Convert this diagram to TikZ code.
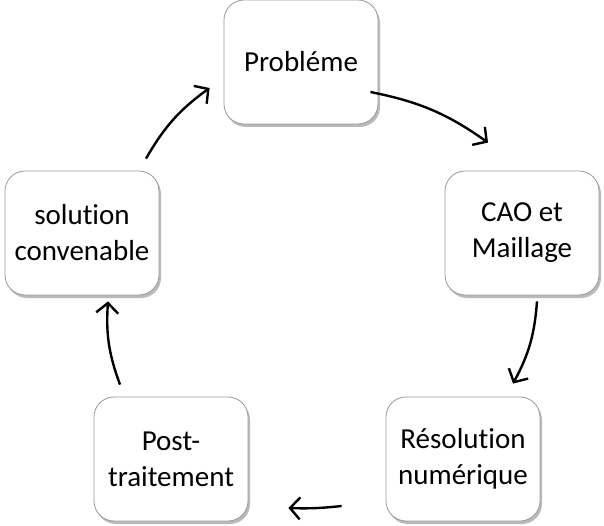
\documentclass[tikz,border=0pt]{standalone}
\usepackage{fontspec}
\setmainfont{Carlito}[Ligatures=NoCommon]
\usetikzlibrary{arrows.meta,shadows}

\begin{document}
\begin{tikzpicture}[x=1pt,y=-1pt,
  etape/.style={draw=gray!80,line width=0.8pt,fill=white,rounded corners=20pt,
    minimum width=154pt,minimum height=124pt,align=center,
    font=\fontsize{29}{36}\selectfont,
    drop shadow={shadow xshift=2pt,shadow yshift=-3pt,fill=black!45,opacity=0.6}},
  fleche/.style={line width=2.4pt,-{Straight Barb[length=10pt,width=22pt]}}]
\useasboundingbox (0,0) rectangle (604,526);
\node[etape] (probleme_node) at (301,62) {Probléme};
\node[etape] (cao_node) at (522,233) {CAO et\\Maillage};
\node[etape] (resolution_node) at (463,459) {Résolution\\numérique};
\node[etape] (post_node) at (171,459) {Post-\\traitement};
\node[etape] (solution_node) at (82,233) {solution\\convenable};

\draw[fleche] ([shift={(64pt,12pt)}]solution_node.north) to[bend left=12] ([shift={(-14pt,-26pt)}]probleme_node.west);
\draw[fleche] ([shift={(-8pt,-30pt)}]probleme_node.east) to[bend left=12] ([shift={(-34pt,28pt)}]cao_node.north);
\draw[fleche] ([shift={(15pt,-6pt)}]cao_node.south) to[bend left=12] ([shift={(50pt,13pt)}]resolution_node.north);
\draw[fleche] ([shift={(-44pt,-47pt)}]resolution_node.west) to[bend left=4] ([shift={(40pt,-49pt)}]post_node.east);
\draw[fleche] ([shift={(-51pt,12pt)}]post_node.north) to[bend left=12] ([shift={(26pt,-6pt)}]solution_node.south);
\end{tikzpicture}
\end{document}
